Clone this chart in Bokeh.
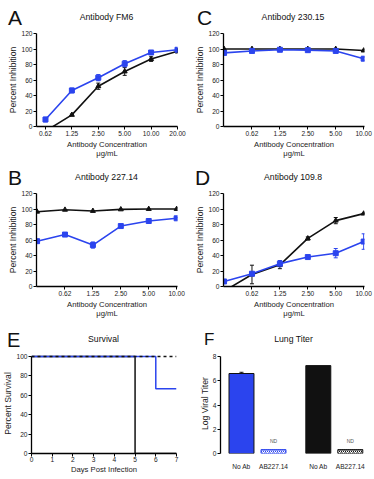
from bokeh.plotting import figure
from bokeh.layouts import column, row
from bokeh.models import Range1d, FixedTicker, Whisker, TeeHead, ColumnDataSource, Div
from bokeh.embed import file_html
from bokeh.resources import INLINE

FONT = "Liberation Sans"
BLUE = "#2b44ee"
BLACK = "#111111"

# ---------------- data ----------------
conc_A_labels = ["0.62", "1.25", "2.50", "5.00", "10.00", "20.00"]
conc_BCD_labels = ["0.62", "1.25", "2.50", "5.00", "10.00"]   # first point (0.31) unlabelled

fm6_black = [-6, 15, 52, 71, 87, 97]
fm6_black_err = [0, 1, 4, 5, 3, 2]
fm6_blue = [9, 46.5, 63, 81, 95.5, 99]
fm6_blue_err = [3, 3, 4, 4, 2, 2]

ab23015_black = [100, 100, 100, 100, 100, 98]
ab23015_black_err = [0, 0, 0, 0, 0, 0]
ab23015_blue = [95, 97.5, 99, 98.5, 97.5, 87.5]
ab23015_blue_err = [2, 1.5, 1, 1, 1.5, 2]

ab22714_black = [96.5, 99, 97.5, 99.5, 100, 100]
ab22714_black_err = [0, 0, 0, 0, 0, 0]
ab22714_blue = [58.5, 67, 53.5, 78, 84.5, 88]
ab22714_blue_err = [2, 1, 4, 1.5, 2, 1]

ab1098_black = [-6, 15.5, 28, 62, 85, 94]
ab1098_black_err = [0, 12, 5, 2, 4, 0.5]
ab1098_blue = [6.5, 16.5, 29.5, 38, 43, 58]
ab1098_blue_err = [2, 2, 4, 1, 6, 10]

inhib_ticks = [0, 20, 40, 60, 80, 100, 120]

surv_days_noab = [0, 5, 7]
surv_noab = [100, 0, 0]
surv_days_ab = [0, 6, 7]
surv_ab = [100, 66.7, 66.7]
surv_days_ctrl = [0, 7]
surv_ctrl = [100, 100]
surv_xticks = [0, 1, 2, 3, 4, 5, 6, 7]
surv_yticks = [0, 20, 40, 60, 80, 100]

titer_labels = ["No Ab", "AB227.14", "No Ab", "AB227.14"]
titer_values = [6.6, 0.32, 7.25, 0.32]
titer_err = [0.1, 0, 0, 0]
titer_nd = ["", "ND", "", "ND"]
titer_yticks = [0, 2, 4, 6, 8]

HEAD_H = 28


def header(letter, title, letter_left, letter_size, letter_base, title_center, title_base,
           title_size=8.7):
    # baseline ~ top + 0.8465 * font size when line-height = 1em (Liberation Sans metrics)
    lt = letter_base - 0.8465 * letter_size
    tt = title_base - 0.8465 * title_size
    html = (
        f'<div style="position:relative;width:187px;height:{HEAD_H}px;overflow:visible;'
        f'font-family:\'{FONT}\',Arial,sans-serif;color:#111111;">'
        f'<span style="position:absolute;left:{letter_left}px;top:{lt:.1f}px;'
        f'font-size:{letter_size}px;line-height:{letter_size}px;white-space:nowrap;">{letter}</span>'
        f'<span style="position:absolute;left:{title_center - 60}px;width:120px;top:{tt:.1f}px;'
        f'text-align:center;font-size:{title_size}px;line-height:{title_size}px;'
        f'white-space:nowrap;">{title}</span></div>'
    )
    return Div(text=html, width=187, height=HEAD_H, margin=(0, 0, 0, 0))


def style_axes(p):
    p.xgrid.visible = False
    p.ygrid.visible = False
    p.outline_line_color = None
    p.background_fill_color = "white"
    p.border_fill_color = "white"
    for ax in p.axis:
        ax.axis_line_width = 1.3
        ax.axis_line_color = "black"
        ax.major_tick_out = 3
        ax.major_tick_in = 0
        ax.major_tick_line_width = 1
        ax.major_tick_line_color = "black"
        ax.minor_tick_line_color = None
        ax.major_label_text_font = FONT
        ax.major_label_text_font_size = "6.6px"
        ax.major_label_text_color = "#222222"
        ax.axis_label_text_font = FONT
        ax.axis_label_text_font_size = "7.7px"
        ax.axis_label_text_font_style = "normal"
        ax.axis_label_text_color = "#222222"
        ax.axis_label_text_line_height = 1.0
        ax.major_label_standoff = 1
        ax.axis_label_standoff = 1
    p.yaxis.axis_label_text_font_size = "8.6px"
    p.yaxis.axis_label_standoff = 0


def whiskers(p, xs, ys, errs, color):
    xb, lo, up = [], [], []
    for x, y, e in zip(xs, ys, errs):
        if e > 0:
            xb.append(x); lo.append(y - e); up.append(y + e)
    if not xb:
        return
    src = ColumnDataSource(dict(base=xb, lower=lo, upper=up))
    p.add_layout(Whisker(source=src, base="base", lower="lower", upper="upper",
                         line_color=color, line_width=1,
                         upper_head=TeeHead(size=4, line_color=color, line_width=1),
                         lower_head=TeeHead(size=4, line_color=color, line_width=1)))


def dose_panel(black, black_err, blue, blue_err, full_labels, bottom_b):
    if full_labels:
        xr = Range1d(-0.34, 5.0)
        ticks = list(range(len(conc_A_labels)))
        labels = conc_A_labels
    else:
        xr = Range1d(-0.02, 5.03)
        ticks = list(range(1, len(conc_BCD_labels) + 1))
        labels = conc_BCD_labels
    p = figure(width=187, height=160 - HEAD_H, x_range=xr, y_range=Range1d(0, 120),
               min_border_left=36, min_border_right=10, min_border_top=33 - HEAD_H,
               min_border_bottom=bottom_b, toolbar_location=None, output_backend="svg")
    xs = list(range(len(black)))
    whiskers(p, xs, black, black_err, BLACK)
    whiskers(p, xs, blue, blue_err, BLUE)
    p.line(xs, black, line_color=BLACK, line_width=1.6)
    p.scatter(xs, black, marker="triangle", size=5, color=BLACK)
    p.line(xs, blue, line_color=BLUE, line_width=1.6)
    p.scatter(xs, blue, marker="square", size=5, color=BLUE)
    p.xaxis.ticker = FixedTicker(ticks=ticks)
    p.xaxis.major_label_overrides = {t: l for t, l in zip(ticks, labels)}
    p.yaxis.ticker = FixedTicker(ticks=inhib_ticks)
    p.xaxis.axis_label = "Antibody Concentration\nμg/mL"
    p.yaxis.axis_label = "Percent Inhibition"
    style_axes(p)
    return p


pA = dose_panel(fm6_black, fm6_black_err, fm6_blue, fm6_blue_err, True, 34)
pC = dose_panel(ab23015_black, ab23015_black_err, ab23015_blue, ab23015_blue_err, False, 34)
pB = dose_panel(ab22714_black, ab22714_black_err, ab22714_blue, ab22714_blue_err, False, 33)
pD = dose_panel(ab1098_black, ab1098_black_err, ab1098_blue, ab1098_blue_err, False, 33)

hA = header("A", "Antibody FM6", 8, 21, 25, 106.5, 20.5)
hC = header("C", "Antibody 230.15", 10, 21, 25, 106, 20)
hB = header("B", "Antibody 227.14", 8, 21, 25, 106.5, 20.5)
hD = header("D", "Antibody 109.8", 8, 21, 25, 106, 20.5)

# ---------------- E: survival ----------------
pE = figure(width=187, height=159 - HEAD_H, x_range=Range1d(0, 7), y_range=Range1d(0, 103),
            min_border_left=31, min_border_right=11, min_border_top=5, min_border_bottom=26,
            toolbar_location=None, output_backend="svg")
pE.step(surv_days_noab, surv_noab, mode="after", line_color=BLACK, line_width=1.5)
pE.step(surv_days_ab, surv_ab, mode="after", line_color=BLUE, line_width=1.5)
pE.line(surv_days_ctrl, surv_ctrl, line_color=BLACK, line_width=1.5, line_dash="3 3")
pE.xaxis.ticker = FixedTicker(ticks=surv_xticks)
pE.yaxis.ticker = FixedTicker(ticks=surv_yticks)
pE.yaxis.bounds = (0, 100)
pE.xaxis.axis_label = "Days Post Infection"
pE.yaxis.axis_label = "Percent Survival"
style_axes(pE)
pE.xaxis.major_label_standoff = 0
pE.xaxis.axis_label_standoff = 0
hE = header("E", "Survival", 7, 20, 27, 103.5, 22.5)

# ---------------- F: lung titer ----------------
pos = [0, 1, 2.4, 3.4]
pF = figure(width=187, height=159 - HEAD_H, x_range=Range1d(-0.656, 3.906), y_range=Range1d(0, 8.25),
            min_border_left=33, min_border_right=8, min_border_top=5, min_border_bottom=26,
            toolbar_location=None, output_backend="svg")
bar_fill = [BLUE, "white", BLACK, "white"]
bar_line = [BLACK, BLUE, BLACK, BLACK]
hatch_col = [BLUE, BLUE, BLACK, BLACK]
src = ColumnDataSource(dict(x=pos, top=titer_values, fill=bar_fill, line=bar_line,
                            hatch=["blank", "right_diagonal_line", "blank", "right_diagonal_line"],
                            hcol=hatch_col))
pF.vbar(x="x", top="top", width=0.78, bottom=0, source=src, fill_color="fill",
        line_color="line", line_width=1, hatch_pattern="hatch", hatch_color="hcol",
        hatch_scale=4, hatch_weight=1)
whiskers(pF, pos, [v + e / 2 for v, e in zip(titer_values, titer_err)], [e / 2 for e in titer_err], BLACK)
nd_x = [x for x, t in zip(pos, titer_nd) if t]
nd_y = [v + 0.75 for v, t in zip(titer_values, titer_nd) if t]
pF.text(nd_x, nd_y, text=[t for t in titer_nd if t], text_font_size="5px",
        text_align="center", text_baseline="middle", text_color="#555555")
pF.xaxis.ticker = FixedTicker(ticks=pos)
pF.xaxis.major_label_overrides = {p_: l for p_, l in zip(pos, titer_labels)}
pF.yaxis.ticker = FixedTicker(ticks=titer_yticks)
pF.yaxis.bounds = (0, 8)
pF.yaxis.axis_label = "Log Viral Titer"
style_axes(pF)
pF.xaxis.axis_line_color = None
pF.xaxis.major_tick_line_color = None
pF.xaxis.major_label_standoff = 6
hF = header("F", "Lung Titer", 17, 17, 25, 106.5, 22.5)

layout = column(
    row(column(hA, pA), column(hC, pC)),
    row(column(hB, pB), column(hD, pD)),
    row(column(hE, pE), column(hF, pF)),
)
open("out.html", "w").write(file_html(layout, INLINE))
